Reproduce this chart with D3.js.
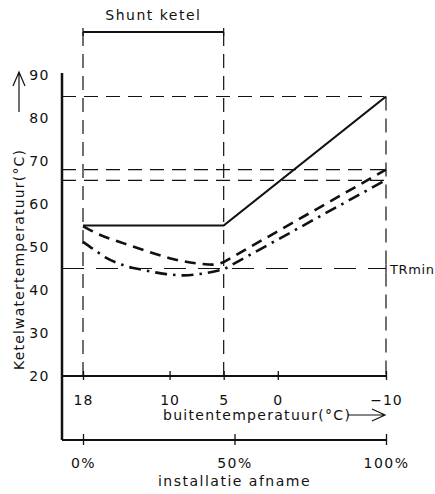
<!DOCTYPE html>
<html>
<head>
<meta charset="utf-8">
<script src="https://cdn.jsdelivr.net/npm/d3@7"></script>
<style>
  body { margin: 0; background: #fff; }
  svg text { font-family: "DejaVu Sans", sans-serif; fill: #111; }
</style>
</head>
<body>
<svg id="chart" width="435" height="494"></svg>
<script>
// outside temperature ticks (upper x axis) and load ticks (lower x axis)
var tempTicks = [18, 10, 5, 0, -10];
var loadTicks = [0, 50, 100];
var yTicks = [20, 30, 40, 50, 60, 70, 80, 90];

// solid: boiler with shunt
var solidT = [18, 5, -10];
var solidV = [55, 55, 85];

// dashed curve
var dashT = [18, 16.4, 14.3, 11.8, 10, 7.2, 6, 5, -10];
var dashV = [54.8, 52.8, 50.9, 48.8, 47.4, 46.1, 45.9, 46.5, 68];

// dash-dot curve
var dotT = [18, 16.7, 15.8, 14.3, 12.5, 10.3, 8.7, 7, 5, -10];
var dotV = [51.2, 48.9, 47.4, 45.8, 44.7, 43.7, 43.4, 43.8, 44.8, 65.6];

// reference levels
var refLevels = [85, 68, 65.5];
var trMin = 45;
var shuntRange = [18, 5];

var svg = d3.select('#chart');
var x = d3.scaleLinear().domain([18, -10]).range([83, 386]);
var p = d3.scaleLinear().domain([0, 100]).range([83, 386]);
var y = d3.scaleLinear().domain([20, 90]).range([376, 75]);
var x0 = 62, yLoad = 440;

var ink = '#111';

// dashed guides
refLevels.forEach(function(v) {
  svg.append('line').attr('x1', x0).attr('x2', x(-10)).attr('y1', y(v)).attr('y2', y(v))
    .attr('stroke', ink).attr('stroke-width', 1.2).attr('stroke-dasharray', '14,8');
});
svg.append('line').attr('x1', x0).attr('x2', x(-10)).attr('y1', y(trMin)).attr('y2', y(trMin))
  .attr('stroke', ink).attr('stroke-width', 1.2).attr('stroke-dasharray', '22,12');
svg.append('line').attr('x1', x(-10)).attr('x2', x(-10)).attr('y1', y(trMin) - 4).attr('y2', y(trMin) + 4)
  .attr('stroke', ink).attr('stroke-width', 1.2);
svg.append('text').attr('x', x(-10) + 4).attr('y', y(trMin) + 5)
  .attr('font-size', 13).attr('letter-spacing', 0.6).text('TRmin');

shuntRange.forEach(function(t) {
  svg.append('line').attr('x1', x(t)).attr('x2', x(t)).attr('y1', 32).attr('y2', y(20))
    .attr('stroke', ink).attr('stroke-width', 1.2).attr('stroke-dasharray', '14,8');
});
svg.append('line').attr('x1', x(-10)).attr('x2', x(-10)).attr('y1', y(85)).attr('y2', y(20))
  .attr('stroke', ink).attr('stroke-width', 1.2).attr('stroke-dasharray', '14,8');

// shunt bracket
svg.append('line').attr('x1', x(18)).attr('x2', x(5)).attr('y1', 32).attr('y2', 32)
  .attr('stroke', ink).attr('stroke-width', 2);
shuntRange.forEach(function(t) {
  svg.append('line').attr('x1', x(t)).attr('x2', x(t)).attr('y1', 28).attr('y2', 36)
    .attr('stroke', ink).attr('stroke-width', 1.2);
});
svg.append('text').attr('x', (x(18) + x(5)) / 2).attr('y', 20).attr('text-anchor', 'middle')
  .attr('font-size', 14).attr('letter-spacing', 1.5).text('Shunt ketel');

// axes
svg.append('line').attr('x1', x0).attr('x2', x0).attr('y1', y(90) - 2).attr('y2', yLoad)
  .attr('stroke', ink).attr('stroke-width', 2.5);
svg.append('line').attr('x1', x0).attr('x2', x(-10)).attr('y1', y(20)).attr('y2', y(20))
  .attr('stroke', ink).attr('stroke-width', 2.2);
svg.append('line').attr('x1', x0).attr('x2', p(100)).attr('y1', yLoad).attr('y2', yLoad)
  .attr('stroke', ink).attr('stroke-width', 2.2);

var tAxis = svg.append('g').attr('transform', 'translate(0,' + y(20) + ')')
  .call(d3.axisBottom(x).tickValues(tempTicks).tickSize(4).tickPadding(15)
    .tickFormat(function(d) { return d < 0 ? '\u2212' + (-d) : d; }));
tAxis.select('.domain').remove();
tAxis.selectAll('.tick line').attr('y1', -5).attr('y2', 4).attr('stroke', ink).attr('stroke-width', 1.3);
tAxis.selectAll('.tick text').attr('font-size', 14).attr('letter-spacing', 1).attr('font-family', '"DejaVu Sans", sans-serif');

var pAxis = svg.append('g').attr('transform', 'translate(0,' + yLoad + ')')
  .call(d3.axisBottom(p).tickValues(loadTicks).tickSize(4).tickPadding(14)
    .tickFormat(function(d) { return d + '%'; }));
pAxis.select('.domain').remove();
pAxis.selectAll('.tick line').attr('y1', -6).attr('y2', 5).attr('stroke', ink).attr('stroke-width', 1.3);
pAxis.selectAll('.tick text').attr('font-size', 14).attr('letter-spacing', 1.5).attr('font-family', '"DejaVu Sans", sans-serif');

var yAxis = svg.append('g').attr('transform', 'translate(' + (x0 - 12) + ',0)')
  .call(d3.axisLeft(y).tickValues(yTicks).tickSize(0).tickPadding(0));
yAxis.select('.domain').remove();
yAxis.selectAll('.tick text').attr('font-size', 14).attr('letter-spacing', 1.5).attr('font-family', '"DejaVu Sans", sans-serif');

// axis titles
svg.append('text').attr('x', 163).attr('y', 420).attr('font-size', 14).attr('letter-spacing', 1.3)
  .text('buitentemperatuur(\u00b0C)');
svg.append('path').attr('d', 'M348,415 L385,415 M372,409 L385,415 L372,421')
  .attr('fill', 'none').attr('stroke', ink).attr('stroke-width', 1.2);
svg.append('text').attr('x', p(50)).attr('y', 486).attr('text-anchor', 'middle')
  .attr('font-size', 14).attr('letter-spacing', 1.5).text('installatie afname');

svg.append('text').attr('transform', 'translate(24,370) rotate(-90)')
  .attr('font-size', 14).attr('letter-spacing', 1.2).text('Ketelwatertemperatuur(\u00b0C)');
svg.append('path').attr('d', 'M19,112 L19,72 M13,86 L19,72 L25,86')
  .attr('fill', 'none').attr('stroke', ink).attr('stroke-width', 1.2);

// series
function pts(ts, vs) { return ts.map(function(t, i) { return [x(t), y(vs[i])]; }); }
function bentPath(ts, vs) {
  var a = pts(ts, vs), last = a.pop();
  var d = d3.line().curve(d3.curveMonotoneX)(a);
  return d + 'L' + last[0] + ',' + last[1];
}

svg.append('path').attr('d', d3.line()(pts(solidT, solidV)))
  .attr('fill', 'none').attr('stroke', ink).attr('stroke-width', 2.2);
svg.append('path').attr('d', bentPath(dashT, dashV))
  .attr('fill', 'none').attr('stroke', ink).attr('stroke-width', 2.6).attr('stroke-dasharray', '11,7');
svg.append('path').attr('d', bentPath(dotT, dotV))
  .attr('fill', 'none').attr('stroke', ink).attr('stroke-width', 2.6).attr('stroke-dasharray', '12,6,2.5,6');
</script>
</body>
</html>
